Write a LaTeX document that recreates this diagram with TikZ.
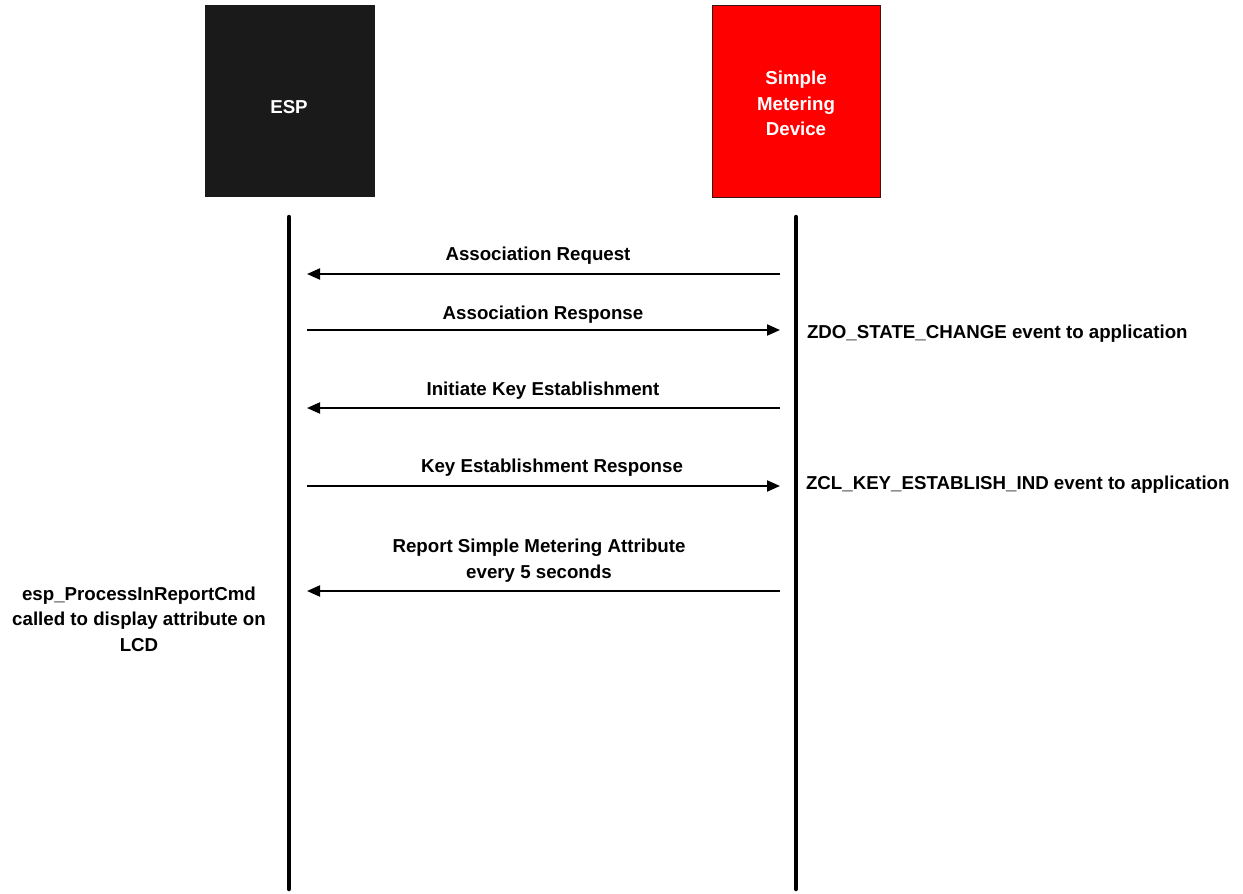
\documentclass[tikz,border=0pt]{standalone}
\usepackage{fontspec}
\setmainfont{Liberation Sans}
\usetikzlibrary{arrows.meta}
\definecolor{espfill}{RGB}{26,26,26}
\definecolor{smdfill}{RGB}{255,0,0}
\definecolor{smdedge}{RGB}{60,20,20}
\begin{document}
\begin{tikzpicture}[x=1pt,y=-1pt,
  every node/.style={font=\fontsize{18.7}{25.5}\selectfont\bfseries, inner sep=0pt, outer sep=0pt},
  actor/.style={minimum width=170pt, minimum height=192pt},
  actorname/.style={text=white, align=center},
  lifeline/.style={line width=4.5pt, line cap=round},
  msg/.style={line width=2pt, -{Triangle[length=13pt,width=11pt]}},
  msglabel/.style={anchor=base, align=center},
  note/.style={anchor=base west}]
  \useasboundingbox (0,0) rectangle (1243,894);

  % participants
  \node[actor, fill=espfill] (esp) at (290,101) {};
  \node[actorname] (espname) at (289,107) {ESP};
  \node[actor, fill=smdfill, draw=smdedge, line width=0.8pt, minimum width=168pt] (smd) at (796,101) {};
  \node[actorname] (smdname) at (796,103.5) {Simple\\Metering\\Device};

  % lifelines
  \coordinate (espTop) at (289,217);
  \coordinate (espBot) at (289,889);
  \coordinate (smdTop) at (796,217);
  \coordinate (smdBot) at (796,889);
  \draw[lifeline] (espTop) -- (espBot);
  \draw[lifeline] (smdTop) -- (smdBot);

  % message end points
  \foreach \n/\y in {1/274,2/330,3/408,4/486,5/591}{
    \coordinate (e\n) at (307,\y);
    \coordinate (s\n) at (780,\y);
  }

  % messages
  \draw[msg] (s1) -- (e1);
  \draw[msg] (e2) -- (s2);
  \draw[msg] (s3) -- (e3);
  \draw[msg] (e4) -- (s4);
  \draw[msg] (s5) -- (e5);

  % message labels
  \node[msglabel] (l1) at (538,260) {Association Request};
  \node[msglabel] (l2) at (543,319) {Association Response};
  \node[msglabel] (l3) at (543,395) {Initiate Key Establishment};
  \node[msglabel] (l4) at (552,472) {Key Establishment Response};
  \node[align=center] (l5) at (539,560.5) {Report Simple Metering Attribute\\every 5 seconds};

  % events at the lifelines
  \node[note] (n1) at (807,338) {ZDO\_STATE\_CHANGE event to application};
  \node[note] (n2) at (806,489) {ZCL\_KEY\_ESTABLISH\_IND event to application};
  \node[align=center] (n3) at (139,619) {esp\_ProcessInReportCmd\\called to display attribute on\\LCD};
\end{tikzpicture}
\end{document}
